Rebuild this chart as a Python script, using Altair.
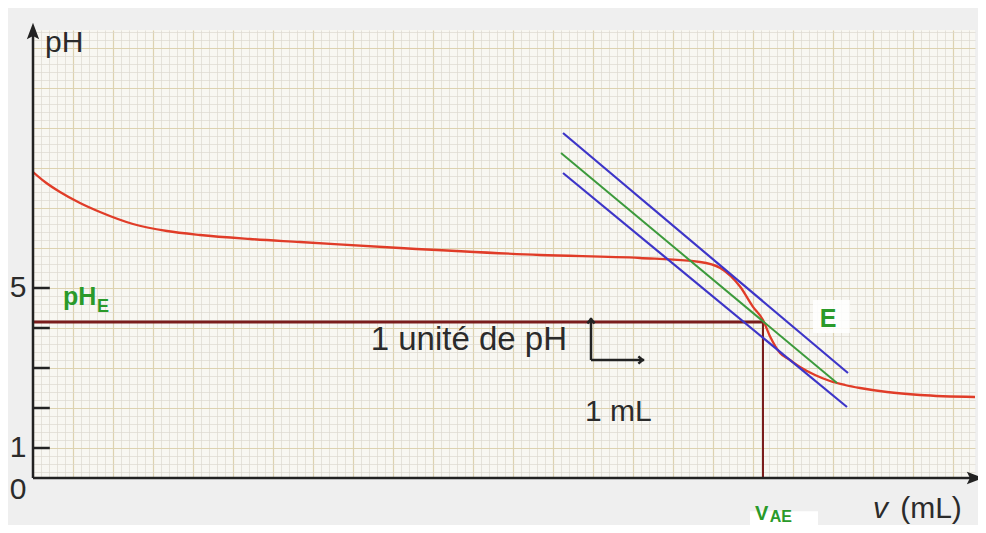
import altair as alt
import pandas as pd

# ---------------- data ----------------
# titration curve: v (mL) / pH
curve_v = [0.0, 0.3, 0.675, 1.175, 1.675, 2.5, 3.35, 4.175, 5.425, 6.675, 9.175,
           12.675, 15.175, 16.675, 17.18, 17.68, 18.0, 18.25, 18.43, 18.675,
           18.925, 19.175, 19.55, 19.925, 20.3, 20.675, 21.35, 22.175, 23.55]
curve_ph = [7.9, 7.65, 7.4, 7.125, 6.9, 6.6, 6.425, 6.325, 6.225, 6.15, 6.0,
            5.825, 5.75, 5.65, 5.5, 5.03, 4.53, 4.2, 3.78, 3.375,
            3.2, 3.025, 2.825, 2.675, 2.575, 2.5, 2.4, 2.325, 2.275]

# parallel tangents (blue) and median line (green)
tan_upper_v = [13.25, 20.375]
tan_upper_ph = [8.875, 2.875]
median_v = [13.2, 20.1]
median_ph = [8.375, 2.625]
tan_lower_v = [13.25, 20.35]
tan_lower_ph = [7.875, 2.025]

# equivalence point
ph_E = 4.15
v_AE = 18.25

# y ticks
tick_ph = [1, 2, 3, 4, 5]
tick_labels = ["0", "1", "5"]
tick_label_ph = [-0.05, 1, 5]

# ---------------- scales / styling ----------------
FONT = "Liberation Sans"
TXT = "#2b2b2b"
GREEN = "#2a9a2a"
RED = "#e03c28"
DARKRED = "#7a1c1c"
BLUE = "#3d35c8"
MEDGREEN = "#3c9a3c"

V_MAX = 23.55
xs = alt.Scale(domain=[0, V_MAX], nice=False, zero=False)
ys = alt.Scale(domain=[0.25, 11.45], nice=False, zero=False)


def X(field="v"):
    return alt.X(f"{field}:Q", scale=xs, axis=None)


def Y(field="ph"):
    return alt.Y(f"{field}:Q", scale=ys, axis=None)


# ---------------- graph-paper grid (through axes) ----------------
minor_x = [round(0.2 * i, 1) for i in range(0, 119) if i % 5]
major_x = [float(i) for i in range(0, 24)]
minor_y = [round(0.2 * i, 1) for i in range(2, 58) if i % 5]
major_y = [float(i) for i in range(1, 12)]

dummy = pd.DataFrame({"v": [1.0], "ph": [1.0]})


def grid_layer(xv, yv, color, width):
    ax = dict(grid=True, gridColor=color, gridWidth=width, labels=False,
              ticks=False, domain=False, title=None)
    return alt.Chart(dummy).mark_point(opacity=0).encode(
        x=alt.X("v:Q", scale=xs, axis=alt.Axis(values=xv, **ax)),
        y=alt.Y("ph:Q", scale=ys, axis=alt.Axis(values=yv, **ax)),
    )


grid_minor = grid_layer(minor_x, minor_y, "#dcd9d0", 0.7)
grid_major = grid_layer(major_x, major_y, "#ddd2b0", 1.2)

# ---------------- data marks ----------------
curve_df = pd.DataFrame({"v": curve_v, "ph": curve_ph, "o": range(len(curve_v))})
curve = alt.Chart(curve_df).mark_line(color=RED, strokeWidth=2.3, interpolate="monotone", clip=True).encode(
    x=X(), y=Y(), order="o:Q")


def seg(vs, phs, color, width):
    df = pd.DataFrame({"v": vs, "ph": phs})
    return alt.Chart(df).mark_line(color=color, strokeWidth=width).encode(x=X(), y=Y())


upper = seg(tan_upper_v, tan_upper_ph, BLUE, 2.2)
lower = seg(tan_lower_v, tan_lower_ph, BLUE, 2.2)
median = seg(median_v, median_ph, MEDGREEN, 2)

phE_line = alt.Chart(pd.DataFrame({"v": [0.0], "v2": [v_AE], "ph": [ph_E]})).mark_rule(
    color=DARKRED, strokeWidth=3).encode(x=X(), x2="v2:Q", y=Y())
vAE_line = alt.Chart(pd.DataFrame({"v": [v_AE], "ph": [0.25], "ph2": [ph_E]})).mark_rule(
    color=DARKRED, strokeWidth=2).encode(x=X(), y=Y(), y2="ph2:Q")

# ---------------- axes drawn as arrows ----------------
AX = "#222222"
yaxis = alt.Chart(pd.DataFrame({"v": [0.0], "ph": [0.25], "ph2": [11.5]})).mark_rule(
    color=AX, strokeWidth=2.5, clip=False).encode(x=X(), y=Y(), y2="ph2:Q")
xaxis = alt.Chart(pd.DataFrame({"v": [0.0], "v2": [23.6], "ph": [0.25]})).mark_rule(
    color=AX, strokeWidth=2.5, clip=False).encode(x=X(), x2="v2:Q", y=Y())
yarrow = alt.Chart(pd.DataFrame({"v": [0.0], "ph": [11.375]})).mark_point(
    shape="M0,-1L0.6,0.6L0,0.3L-0.6,0.6Z", size=420, filled=True, color=AX, opacity=1, clip=False
).encode(x=X(), y=Y())
xarrow = alt.Chart(pd.DataFrame({"v": [23.5], "ph": [0.25]})).mark_point(
    shape="M1,0L-0.6,0.6L-0.3,0L-0.6,-0.6Z", size=420, filled=True, color=AX, opacity=1, clip=False
).encode(x=X(), y=Y())

ticks = alt.Chart(pd.DataFrame({"ph": tick_ph, "v": [0.0] * len(tick_ph), "v2": [0.42] * len(tick_ph)})).mark_rule(
    color=AX, strokeWidth=2.5).encode(x=X(), x2="v2:Q", y=Y())
tick_text = alt.Chart(pd.DataFrame({"t": tick_labels, "ph": tick_label_ph, "v": [-0.375] * 3})).mark_text(
    font=FONT, fontSize=30, color=TXT, align="center", baseline="middle", clip=False
).encode(x=X(), y=Y(), text="t:N")

# scale arrows (1 pH unit / 1 mL)
sc_v = alt.Chart(pd.DataFrame({"v": [13.95], "ph": [3.2], "ph2": [4.25]})).mark_rule(
    color=AX, strokeWidth=2.5).encode(x=X(), y=Y(), y2="ph2:Q")
sc_h = alt.Chart(pd.DataFrame({"v": [13.95], "v2": [15.28], "ph": [3.2]})).mark_rule(
    color=AX, strokeWidth=2.5).encode(x=X(), x2="v2:Q", y=Y())
sc_up = alt.Chart(pd.DataFrame({"v": [13.95], "ph": [4.18]})).mark_point(
    shape="M-0.7,0.5L0,-0.3L0.7,0.5", size=110, filled=False, stroke=AX, strokeWidth=2.5, opacity=1
).encode(x=X(), y=Y())
sc_right = alt.Chart(pd.DataFrame({"v": [15.2], "ph": [3.2]})).mark_point(
    shape="M-0.5,-0.7L0.3,0L-0.5,0.7", size=110, filled=False, stroke=AX, strokeWidth=2.5, opacity=1
).encode(x=X(), y=Y())


# ---------------- text ----------------
def label(text, v, ph, size, color=TXT, weight="normal", style="normal", align="left", baseline="alphabetic"):
    df = pd.DataFrame({"v": [v], "ph": [ph], "t": [text]})
    return alt.Chart(df).mark_text(font=FONT, fontSize=size, color=color, fontWeight=weight,
                                   fontStyle=style, align=align, baseline=baseline, clip=False
                                   ).encode(x=X(), y=Y(), text="t:N")


def box(v1, v2, p1, p2, color="#ffffff", opacity=1.0):
    df = pd.DataFrame({"v": [v1], "v2": [v2], "ph": [p1], "ph2": [p2]})
    return alt.Chart(df).mark_rect(color=color, opacity=opacity, clip=False).encode(
        x=X(), x2="v2:Q", y=Y(), y2="ph2:Q")


texts = [
    label("pH", 0.3, 10.9, 30),
    label("pH", 0.75, 4.575, 25, GREEN, "bold"),
    label("E", 1.6, 4.4, 18, GREEN, "bold"),
    label("E", 19.67, 4.03, 25, GREEN, "bold"),
    label("1 unité de pH", 13.35, 3.45, 33, align="right"),
    label("1 mL", 13.8, 1.68, 30),
    label("V", 18.05, -0.8, 20, GREEN, "bold"),
    label("AE", 18.42, -0.86, 16, GREEN, "bold"),
    label("v", 21.0, -0.74, 30, style="italic"),
    label("(mL)", 21.68, -0.74, 30),
]

e_box = box(19.5, 20.42, 3.875, 4.7, "#ffffff", 0.85)
vae_box = box(17.925, 19.625, -0.58, -0.95, "#ffffff", 1.0)

chart = alt.layer(
    grid_minor, grid_major,
    e_box, vae_box,
    phE_line, vAE_line,
    curve, upper, lower, median,
    ticks, yaxis, xaxis, yarrow, xarrow,
    sc_v, sc_h, sc_up, sc_right,
    tick_text, *texts,
).resolve_axis(x="independent", y="independent").properties(
    width=942, height=448,
    padding={"left": 25, "top": 22, "right": 3, "bottom": 47},
    autosize=alt.AutoSizeParams(type="none"),
    background="#efefef",
).configure_view(stroke=None, fill="#f8f7f2")

chart.save("out.html", embed_options={"renderer": "svg", "actions": False})
